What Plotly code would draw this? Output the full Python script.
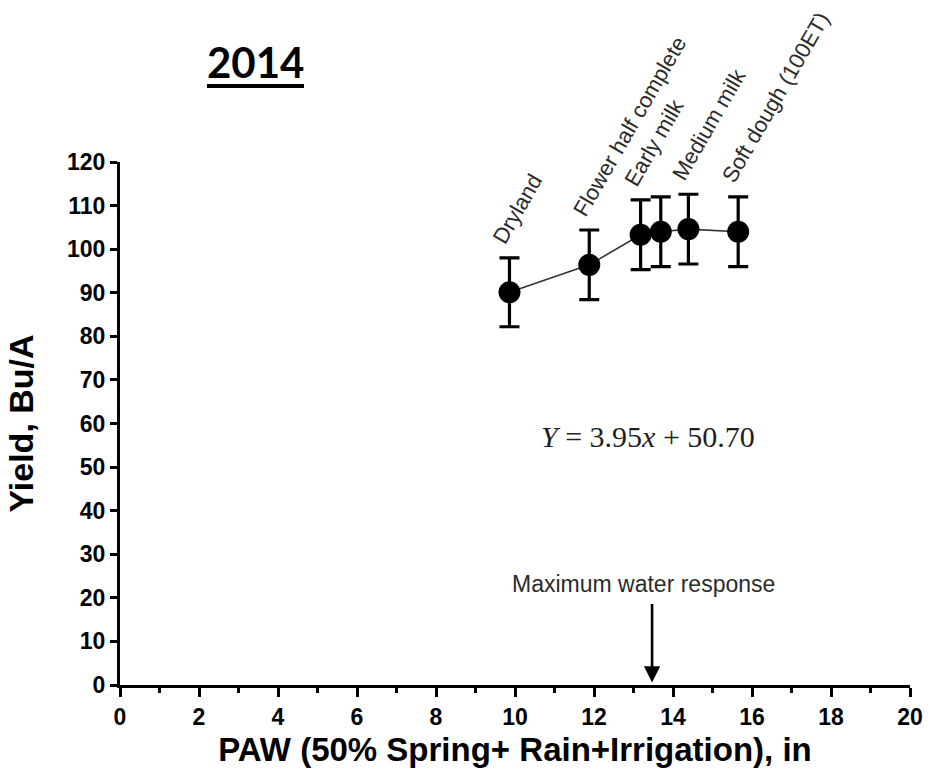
import plotly.graph_objects as go

# Growth stage at which irrigation was terminated, with plant-available water and yield
stages = ["Dryland", "Flower half complete", "Early milk", "", "Medium milk", "Soft dough (100ET)"]
paw_in = [9.86, 11.88, 13.18, 13.69, 14.39, 15.65]
yield_bu = [90.1, 96.4, 103.3, 104.0, 104.6, 104.0]
yield_err = [7.9, 8.0, 8.0, 8.0, 8.0, 8.0]

x_ticks = list(range(0, 21, 2))
y_ticks = list(range(0, 121, 10))

equation = "<i>Y</i> = 3.95<i>x</i> + 50.70"
eq_pos = (13.37, 57.0)
max_response_paw = 13.47

W, H = 931, 780
M = dict(l=120, r=21, t=162, b=95)

sans = "Liberation Sans, Arial, sans-serif"
label_font = dict(family=sans, size=22, color="#2b2b2b")

fig = go.Figure()

fig.add_trace(go.Scatter(
    x=paw_in, y=yield_bu,
    mode="lines+markers",
    line=dict(color="#333333", width=1.6),
    marker=dict(size=22, color="black"),
    error_y=dict(type="data", array=yield_err, visible=True,
                 color="black", thickness=3.2, width=10),
    showlegend=False, hoverinfo="x+y",
))

# stage names written diagonally above the error bars
for name, xv, yv, ev in zip(stages, paw_in, yield_bu, yield_err):
    if not name:
        continue
    fig.add_annotation(
        x=xv, y=yv + ev, xref="x", yref="y",
        text=name, showarrow=False, textangle=-60,
        xanchor="left", yanchor="bottom",
        xshift=-24, yshift=7,
        font=label_font,
    )

fig.add_annotation(
    x=eq_pos[0], y=eq_pos[1], xref="x", yref="y",
    text=equation, showarrow=False,
    font=dict(family="Liberation Serif, Times New Roman, serif", size=30, color="#1f1f1f"),
)

fig.add_annotation(
    x=max_response_paw, y=0.6, xref="x", yref="y",
    ax=0, ay=-80, axref="pixel", ayref="pixel",
    text="", showarrow=True,
    arrowhead=2, arrowsize=1.25, arrowwidth=2.6, arrowcolor="black",
)
fig.add_annotation(
    x=max_response_paw, y=0, xref="x", yref="y",
    yshift=101, xshift=-9,
    text="Maximum water response", showarrow=False,
    font=dict(family=sans, size=23, color="#2b2b2b"),
)

# year heading with underline, positioned in page pixels
plot_w = W - M["l"] - M["r"]
plot_h = H - M["t"] - M["b"]


def px_x(px):
    return (px - M["l"]) / plot_w


def px_y(py):
    return (H - M["b"] - py) / plot_h


fig.add_annotation(
    x=px_x(255), y=px_y(62), xref="paper", yref="paper",
    xanchor="center", yanchor="middle",
    text="<b>2014</b>", showarrow=False,
    font=dict(family="Lato, Liberation Sans, sans-serif", size=42, color="black"),
)
fig.add_shape(type="line", xref="paper", yref="paper",
              x0=px_x(207), x1=px_x(304), y0=px_y(86), y1=px_y(86),
              line=dict(color="black", width=4))

fig.update_layout(
    width=W, height=H,
    margin=M,
    paper_bgcolor="white", plot_bgcolor="white",
    xaxis=dict(
        range=[0, 20], tickvals=x_ticks, ticktext=[str(v) for v in x_ticks],
        showgrid=False, zeroline=False, automargin=False,
        showline=True, linecolor="black", linewidth=3,
        ticks="outside", ticklen=9, tickwidth=3, tickcolor="black",
        minor=dict(dtick=1, ticks="outside", ticklen=5, tickwidth=3, tickcolor="black"),
        tickfont=dict(family=sans, size=23, color="black", weight="bold"),
        title=dict(text="<b>PAW (50% Spring+ Rain+Irrigation), in</b>",
                   font=dict(family=sans, size=33, color="black"), standoff=10),
        fixedrange=True,
    ),
    yaxis=dict(
        range=[0, 120], tickvals=y_ticks, ticktext=[str(v) for v in y_ticks],
        showgrid=False, zeroline=False, automargin=False,
        showline=True, linecolor="black", linewidth=3,
        ticks="outside", ticklen=7, tickwidth=3, tickcolor="black",
        tickfont=dict(family=sans, size=23, color="black", weight="bold"),
        title=dict(text="<b>Yield, Bu/A</b>",
                   font=dict(family=sans, size=34, color="black"), standoff=24),
        fixedrange=True,
    ),
)

fig.write_html("out.html")
